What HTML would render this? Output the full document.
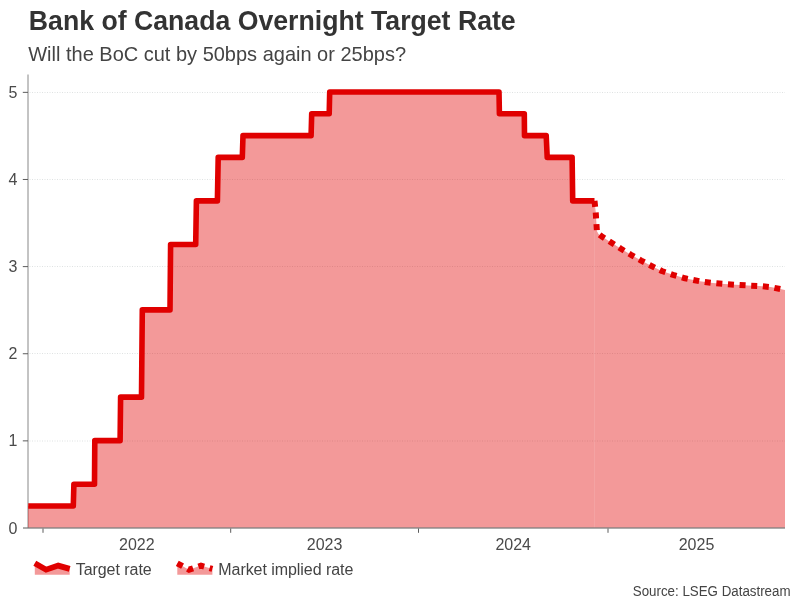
<!DOCTYPE html>
<html lang="en"><head><meta charset="utf-8"><title>Bank of Canada Overnight Target Rate</title>
<style>
html,body{margin:0;padding:0;background:#fff;}
body{width:801px;height:601px;overflow:hidden;font-family:"Liberation Sans",Arial,sans-serif;}
svg{display:block;font-family:"Liberation Sans",Arial,sans-serif;}
.t{font-size:26.667px;font-weight:bold;fill:#333;}
.s{font-size:20px;fill:#444;}
.ax text{font-size:16px;fill:#4a4a4a;}
.lg text{font-size:16px;fill:#444;}
.src{font-size:13.333px;fill:#444;}
.grid line{stroke:#dfe2e2;stroke-width:1;stroke-dasharray:1 1.5;}
.axl line{stroke:#5c5c5c;stroke-width:1;}
</style></head>
<body>
<svg width="801" height="601" viewBox="0 0 801 601">
<rect width="801" height="601" fill="#fff"/>
<text class="t" transform="translate(28.8 29.7) scale(1 1.07)">Bank of Canada Overnight Target Rate</text>
<text class="s" transform="translate(28.25 60.9) scale(1 1.04)">Will the BoC cut by 50bps again or 25bps?</text>
<defs><clipPath id="cp"><rect x="28.25" y="70" width="756.75" height="460"/></clipPath></defs>
<g class="grid"><line x1="29.5" x2="785.0" y1="441.0" y2="441.0"/><line x1="29.5" x2="785.0" y1="353.5" y2="353.5"/><line x1="29.5" x2="785.0" y1="266.5" y2="266.5"/><line x1="29.5" x2="785.0" y1="179.5" y2="179.5"/><line x1="29.5" x2="785.0" y1="92.5" y2="92.5"/></g>
<line x1="28.0" x2="28.0" y1="74.5" y2="527.8" stroke="#888" stroke-width="1"/>
<path d="M28.0 506.0 L73.3 506.0 L73.9 484.2 L94.5 484.2 L94.8 440.6 L120.1 440.6 L120.6 397.1 L141.5 397.1 L142.3 309.9 L170.0 309.9 L170.6 244.5 L195.7 244.5 L196.4 200.9 L217.4 200.9 L218.2 157.4 L242.3 157.4 L243.0 135.6 L311.1 135.6 L311.7 113.8 L329.2 113.8 L329.7 92.0 L499.0 92.0 L499.4 113.8 L524.3 113.8 L524.5 135.6 L546.2 135.6 L547.2 157.4 L572.1 157.4 L572.7 200.9 L594.5 200.9 L594.5 527.8 L28.0 527.8 Z" fill="#e00000" fill-opacity="0.4"/>
<path d="M594.5 200.9 L595.7 212.0 L596.9 231.0 L598.5 234.0 L601.5 236.2 L611.2 242.5 L621.0 248.8 L631.0 254.8 L641.2 260.6 L651.5 266.0 L661.8 271.0 L673.0 274.8 L685.0 278.3 L700.0 281.3 L712.9 283.0 L724.7 284.0 L736.0 284.8 L748.3 285.5 L759.6 286.0 L770.8 287.1 L785.0 290.0 L785.0 527.8 L594.5 527.8 Z" fill="#e00000" fill-opacity="0.4"/>
<g class="axl"><line x1="23.0" x2="785.0" y1="528" y2="528" style="stroke:#5a5a5a"/><line x1="22.8" x2="28.0" y1="440.87" y2="440.87"/><line x1="22.8" x2="28.0" y1="353.74" y2="353.74"/><line x1="22.8" x2="28.0" y1="266.61" y2="266.61"/><line x1="22.8" x2="28.0" y1="179.48" y2="179.48"/><line x1="22.8" x2="28.0" y1="92.35" y2="92.35"/><line x1="43.0" x2="43.0" y1="528.5" y2="532.8"/><line x1="230.7" x2="230.7" y1="528.5" y2="532.8"/><line x1="418.5" x2="418.5" y1="528.5" y2="532.8"/><line x1="608.0" x2="608.0" y1="528.5" y2="532.8"/></g>
<path d="M28.0 506.0 L73.3 506.0 L73.9 484.2 L94.5 484.2 L94.8 440.6 L120.1 440.6 L120.6 397.1 L141.5 397.1 L142.3 309.9 L170.0 309.9 L170.6 244.5 L195.7 244.5 L196.4 200.9 L217.4 200.9 L218.2 157.4 L242.3 157.4 L243.0 135.6 L311.1 135.6 L311.7 113.8 L329.2 113.8 L329.7 92.0 L499.0 92.0 L499.4 113.8 L524.3 113.8 L524.5 135.6 L546.2 135.6 L547.2 157.4 L572.1 157.4 L572.7 200.9 L594.5 200.9" fill="none" stroke="#e00000" stroke-width="5.6" stroke-linejoin="round" clip-path="url(#cp)"/>
<path d="M594.5 200.9 L595.7 212.0 L596.9 231.0 L598.5 234.0 L601.5 236.2 L611.2 242.5 L621.0 248.8 L631.0 254.8 L641.2 260.6 L651.5 266.0 L661.8 271.0 L673.0 274.8 L685.0 278.3 L700.0 281.3 L712.9 283.0 L724.7 284.0 L736.0 284.8 L748.3 285.5 L759.6 286.0 L770.8 287.1 L785.0 290.0" fill="none" stroke="#e00000" stroke-width="6" stroke-dasharray="6 5.65" stroke-linejoin="round" clip-path="url(#cp)"/>
<g class="ax"><text x="17.4" y="533.5" text-anchor="end">0</text><text x="17.4" y="446.4" text-anchor="end">1</text><text x="17.4" y="359.2" text-anchor="end">2</text><text x="17.4" y="272.1" text-anchor="end">3</text><text x="17.4" y="185.0" text-anchor="end">4</text><text x="17.4" y="97.9" text-anchor="end">5</text><text x="136.8" y="550" text-anchor="middle">2022</text><text x="324.6" y="550" text-anchor="middle">2023</text><text x="513.2" y="550" text-anchor="middle">2024</text><text x="696.5" y="550" text-anchor="middle">2025</text></g>
<g class="lg">
<path d="M34.8 563.3 L46.1 569.7 L58.2 565.6 L69.7 568.9 L69.7 574.8 L34.8 574.8 Z" fill="#e00000" fill-opacity="0.4"/>
<path d="M34.8 563.3 L46.1 569.7 L58.2 565.6 L69.7 568.9" fill="none" stroke="#e00000" stroke-width="5.8"/>
<text x="75.7" y="574.5" textLength="76" lengthAdjust="spacing">Target rate</text>
<path d="M177.3 563.3 L189 569.7 L201 565.6 L212.4 568.9 L212.4 574.8 L177.3 574.8 Z" fill="#e00000" fill-opacity="0.4"/>
<path d="M177.3 563.3 L189 569.7 L201 565.6 L212.4 568.9" fill="none" stroke="#e00000" stroke-width="6" stroke-dasharray="6 5.65"/>
<text x="218.3" y="574.5" textLength="135" lengthAdjust="spacing">Market implied rate</text>
</g>
<text class="src" transform="translate(790.5 595.8) scale(1 1.05)" text-anchor="end">Source: LSEG Datastream</text>
</svg>
</body></html>
